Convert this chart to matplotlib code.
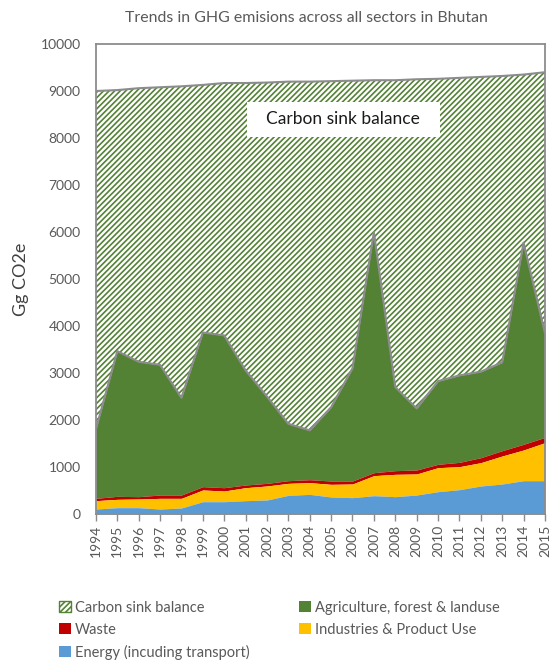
import numpy as np
import matplotlib.pyplot as plt
from matplotlib.patches import Patch, Rectangle

plt.rcParams['font.family'] = ['Lato', 'DejaVu Sans']
plt.rcParams['hatch.linewidth'] = 1.2

years = list(range(1994, 2016))

# sector emissions (Gg CO2e)
energy = [106, 135, 135, 106, 128, 262, 262, 284, 298, 397, 418, 362,
          348, 390, 369, 404, 475, 518, 596, 638, 709, 709]
industry = [178, 177, 184, 227, 205, 249, 227, 276, 298, 255, 249, 269,
            290, 426, 475, 447, 511, 489, 496, 596, 653, 809]
waste = [49, 64, 50, 71, 71, 71, 71, 57, 56, 57, 63, 71,
         64, 63, 78, 85, 71, 92, 106, 113, 121, 113]
agriculture = [1470, 3090, 2870, 2770, 2070, 3280, 3240, 2440, 1850, 1210, 1050, 1570,
               2400, 5120, 1780, 1310, 1770, 1850, 1830, 1880, 4290, 2220]
# sink capacity line
sink_level = [9000, 9020, 9060, 9080, 9100, 9130, 9170, 9170, 9180, 9200, 9200, 9210,
              9220, 9230, 9230, 9250, 9260, 9280, 9300, 9320, 9350, 9400]

c_energy = '#5B9BD5'
c_industry = '#FFC000'
c_waste = '#C00000'
c_agri = '#548235'
c_edge = '#8C8C8C'
c_text = '#595959'

x = np.array(years)
e = np.array(energy)
i1 = e + np.array(industry)
w1 = i1 + np.array(waste)
a1 = w1 + np.array(agriculture)
s1 = np.array(sink_level)

fig = plt.figure(figsize=(5.51, 6.60), dpi=100)
ax = fig.add_axes([0.174, 0.2212, 0.815, 0.7121])

ax.fill_between(x, a1, s1, facecolor='white', edgecolor=c_agri, hatch='//////', linewidth=0)
ax.fill_between(x, w1, a1, color=c_agri, linewidth=0)
ax.fill_between(x, i1, w1, color=c_waste, linewidth=0)
ax.fill_between(x, e, i1, color=c_industry, linewidth=0)
ax.fill_between(x, 0, e, color=c_energy, linewidth=0)
ax.plot(x, a1, color=c_edge, lw=1.5)
ax.plot(x, s1, color=c_edge, lw=1.5)

ax.set_xlim(1994, 2015)
ax.set_ylim(0, 10000)
ax.set_xticks(years)
ax.set_xticklabels([str(y) for y in years], rotation=90)
ax.set_yticks(np.arange(0, 10001, 1000))
ax.tick_params(axis='x', length=5, width=1, color=c_edge, labelsize=10, labelcolor=c_text, pad=3)
ax.tick_params(axis='y', length=0, labelsize=10, labelcolor=c_text, pad=11)
for sp in ax.spines.values():
    sp.set_color(c_edge)
    sp.set_linewidth(1.3)

ax.set_ylabel('Gg CO2e', fontsize=13, color='#404040')
ax.yaxis.set_label_coords(-0.15, 0.5)
fig.text(0.557, 0.972, 'Trends in GHG emisions across all sectors in Bhutan',
         ha='center', va='center', fontsize=11.4, color=c_text)

# white label box inside the sink area
ax.add_patch(Rectangle((0.336, 0.802), 0.43, 0.075, transform=ax.transAxes,
                       facecolor='white', edgecolor='none', zorder=5))
ax.text(0.551, 0.8395, 'Carbon sink balance', transform=ax.transAxes, ha='center',
        va='center', fontsize=12.5, color='#1a1a1a', zorder=6)

# legend filled column-wise: left column then right column
handles = [
    Patch(facecolor='white', edgecolor=c_agri, hatch='//////', label='Carbon sink balance'),
    Patch(facecolor=c_waste, label='Waste'),
    Patch(facecolor=c_energy, label='Energy (incuding transport)'),
    Patch(facecolor=c_agri, label='Agriculture, forest & landuse'),
    Patch(facecolor=c_industry, label='Industries & Product Use'),
]
fig.legend(handles=handles, ncol=2, loc='upper left', bbox_to_anchor=(0.107, 0.090),
           frameon=False, fontsize=10.5, labelcolor=c_text, handlelength=0.8,
           handleheight=0.8, handletextpad=0.3, columnspacing=3.4, labelspacing=0.55,
           borderaxespad=0, borderpad=0)

fig.savefig('out.png', dpi=100)
